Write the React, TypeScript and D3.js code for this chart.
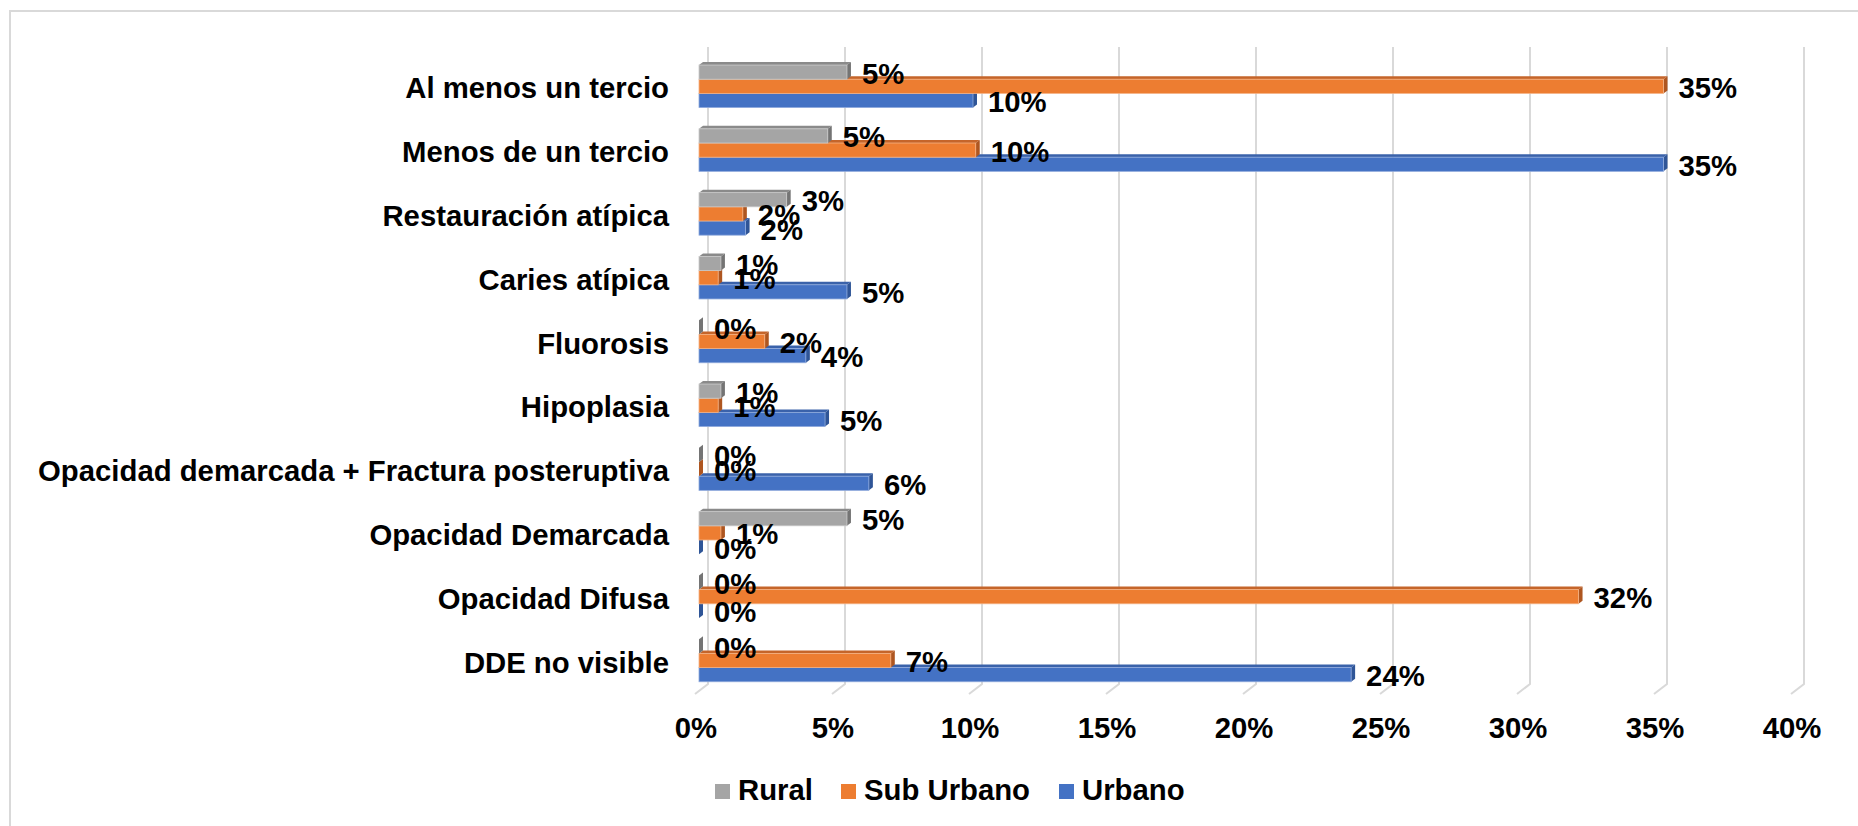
import * as d3 from "d3";

const categories = [
  "Al menos un tercio",
  "Menos de un tercio",
  "Restauración atípica",
  "Caries atípica",
  "Fluorosis",
  "Hipoplasia",
  "Opacidad demarcada + Fractura posteruptiva",
  "Opacidad Demarcada",
  "Opacidad Difusa",
  "DDE no visible",
];
const seriesNames = ["Rural", "Sub Urbano", "Urbano"];
const rural = [5.4, 4.7, 3.2, 0.8, 0, 0.8, 0, 5.4, 0, 0];
const subUrbano = [35.2, 10.1, 1.6, 0.7, 2.4, 0.7, 0, 0.8, 32.1, 7.0];
const urbano = [10.0, 35.2, 1.7, 5.4, 3.9, 4.6, 6.2, 0, 0, 23.8];
const ticks = [0, 5, 10, 15, 20, 25, 30, 35, 40];

const colors = {
  Rural: { front: "#A5A5A5", top: "#8A8A8A", side: "#747474", edge: "#C9C9C9" },
  "Sub Urbano": { front: "#ED7D31", top: "#C5652A", side: "#AE5620", edge: "#F4B183" },
  Urbano: { front: "#4472C4", top: "#3A62AA", side: "#2F5597", edge: "#8FAADC" },
};

const font = "'Liberation Sans', Arial, sans-serif";
const fs = 29.3;

export default function App() {
  const width = 1858;
  const height = 826;
  const values: Record<string, number[]> = { Rural: rural, "Sub Urbano": subUrbano, Urbano: urbano };

  const x = d3.scaleLinear().domain([0, 40]).range([699, 1795]);
  const y = d3.scaleBand<string>().domain(categories).range([54.4, 692.4]);
  const band = y.bandwidth();
  const inner = d3.scaleBand<string>().domain(seriesNames).range([band / 6, (band * 5) / 6]);
  const bh = inner.bandwidth();
  const dx = 4;
  const dy = 3;
  const gx = 9; // back wall offset

  // draw bottom series first so upper bars overlap their top faces
  const drawOrder = [...seriesNames].reverse();

  return (
    <svg width={width} height={height} style={{ position: "absolute", left: 0, top: 0 }} fontFamily={font}>
      <rect x={0} y={0} width={width} height={height} fill="#fff" />
      <rect x={10} y={11} width={1900} height={900} fill="none" stroke="#D9D9D9" strokeWidth={2} />

      {ticks.map(t => (
        <g key={t}>
          <path
            d={`M${x(t) + gx},47 L${x(t) + gx},684 L${x(t) + gx - 13},694`}
            fill="none"
            stroke="#D9D9D9"
            strokeWidth={2}
          />
          <text x={x(t) - 3} y={738} textAnchor="middle" fontSize={fs} fontWeight="bold" fill="#000">
            {t}%
          </text>
        </g>
      ))}

      {categories.map((c, i) => (
        <g key={c}>
          <text x={669} y={(y(c) ?? 0) + band / 2 + 12} textAnchor="end" fontSize={fs} fontWeight="bold" fill="#000">
            {c}
          </text>
          {drawOrder.map(s => {
            const v = values[s][i];
            const x0 = x(0);
            const x1 = x(v);
            const yt = (y(c) ?? 0) + (inner(s) ?? 0);
            const col = colors[s as keyof typeof colors];
            return (
              <g key={s}>
                <polygon
                  points={`${x0},${yt} ${x0 + dx},${yt - dy} ${x1 + dx},${yt - dy} ${x1},${yt}`}
                  fill={col.top}
                />
                <polygon
                  points={`${x1},${yt} ${x1 + dx},${yt - dy} ${x1 + dx},${yt + bh - dy} ${x1},${yt + bh}`}
                  fill={col.side}
                />
                {x1 > x0 && (
                  <rect x={x0} y={yt} width={x1 - x0} height={bh} fill={col.front} stroke={col.edge} strokeWidth={0.8} />
                )}
              </g>
            );
          })}
        </g>
      ))}

      {categories.map((c, i) =>
        drawOrder.map(s => {
          const v = values[s][i];
          const yt = (y(c) ?? 0) + (inner(s) ?? 0);
          return (
            <text key={c + s} x={x(v) + 15} y={yt + bh / 2 + 11.5} fontSize={fs} fontWeight="bold" fill="#000">
              {Math.round(v)}%
            </text>
          );
        })
      )}

      {seriesNames.map((s, i) => {
        const lx = [715, 841, 1059][i];
        const col = colors[s as keyof typeof colors];
        return (
          <g key={s}>
            <rect x={lx} y={784} width={15} height={15} fill={col.front} />
            <text x={lx + 23} y={800} fontSize={fs} fontWeight="bold" fill="#000">
              {s}
            </text>
          </g>
        );
      })}
    </svg>
  );
}
